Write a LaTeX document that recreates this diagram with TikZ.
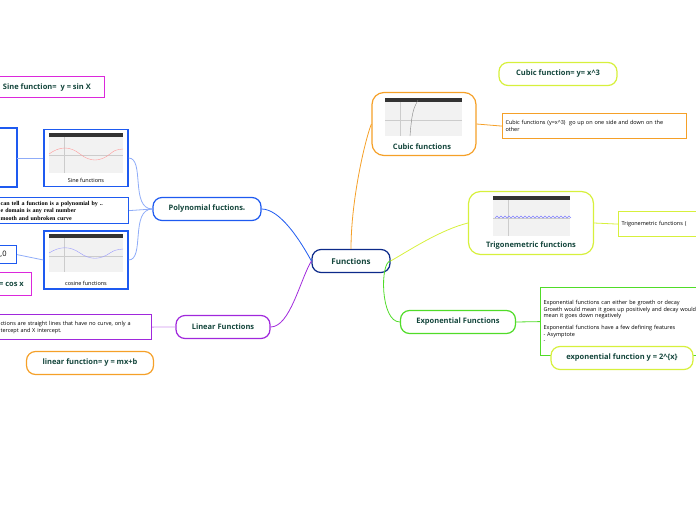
\documentclass[tikz,border=0pt]{standalone}
\usepackage{fontspec}
\setmainfont{Open Sans}
\newfontfamily\serifb{Liberation Serif}
\begin{document}
\begin{tikzpicture}[x=1pt,y=-1pt,
 pill/.style={draw,rounded corners=9pt,line width=1.2pt,fill=white,font=\bfseries\fontsize{7.5}{9}\selectfont},
 desc/.style={draw,line width=1.2pt,fill=white,font=\fontsize{5.5}{7}\selectfont,align=left,anchor=north west,inner sep=3pt},
 imgbox/.style={draw,line width=1.2pt,fill=white},
 conn/.style={line width=0.8pt}]
\useasboundingbox (0,0) rectangle (696,520);
\definecolor{dg}{RGB}{20,70,60}
\definecolor{cor}{RGB}{245,160,40}
\definecolor{cyl}{RGB}{215,240,60}
\definecolor{cgr}{RGB}{80,220,40}
\definecolor{cbl}{RGB}{30,90,240}
\definecolor{cpu}{RGB}{160,40,220}
\definecolor{cmg}{RGB}{220,40,220}
\tikzset{pill/.append style={text=dg}}
\newcommand\shot[4]{% x1 y1 x2 y2
 \fill[gray!10] (#1,#2) rectangle (#3,#4);
 \fill[black!80] (#1,#2) rectangle (#3,#2+4);
 \draw[gray!40,line width=0.3pt] (#1+15,#2+4) -- (#1+15,#4);
 \draw[gray!40,line width=0.3pt] (#1,#2+22) -- (#3,#2+22);}
% central
\node[pill,draw=dg!60!blue,minimum width=78pt,minimum height=23pt,font=\bfseries\fontsize{8}{9}\selectfont] (F) at (351,261) {Functions};
% cubic
\node[imgbox,draw=cor,rounded corners=12pt,minimum width=104pt,minimum height=63pt] (C) at (424,124) {};
\shot{385}{98}{462}{136}
\draw[gray,line width=0.4pt] (410,136) .. controls (412,110) and (414,108) .. (418,100);
\node[font=\bfseries\fontsize{7.5}{9}\selectfont,text=dg] at (422,147) {Cubic functions};
\node[pill,draw=cyl,minimum width=118pt,minimum height=23pt] (C1) at (558,74) {Cubic function= y= x\textasciicircum3};
\node[desc,draw=cor,text width=178pt,minimum height=25pt] (C2) at (502,113) {Cubic functions (y=x\textasciicircum3)\ \ go up on one side and down on the\\other};
% trig
\node[imgbox,draw=cyl,rounded corners=12pt,minimum width=125pt,minimum height=63pt] (T) at (531,223) {};
\shot{493}{196}{570}{236}
\draw[blue!50,line width=0.4pt] (495,218) \foreach \i in {0,...,18} {-- ++(2,-2) -- ++(2,2)};
\node[font=\bfseries\fontsize{7.5}{9}\selectfont,text=dg] at (531,246) {Trigonemetric functions};
\node[desc,draw=cyl,text width=84pt,minimum height=25pt] (T2) at (618,211) {Trigonemetric functions (};
% exp
\node[pill,draw=cgr,minimum width=115pt,minimum height=23pt] (E) at (458,322) {Exponential Functions};
\node[desc,draw=cgr,text width=164pt,minimum height=68pt,font=\fontsize{5.5}{6.6}\selectfont,anchor=north west] (E2) at (540,287) {Exponential functions can either be growth or decay\\Growth would mean it goes up positively and decay would\\mean it goes down negatively\\[5pt]Exponential functions have a few defining features\\- Asymptote\\-};
\node[pill,draw=cyl,minimum width=142pt,minimum height=23pt] (E3) at (622,358) {exponential function y = 2\textasciicircum\{x\}};
% polynomial
\node[pill,draw=cbl,minimum width=108pt,minimum height=23pt] (P) at (207,209) {Polynomial fuctions\textsubscript{\tiny\textbullet}};
\node[imgbox,draw=cbl,minimum width=84pt,minimum height=57pt] (S) at (86,158) {};
\shot{49}{133}{123}{173}
\draw[red!40,line width=0.4pt] (49,154) .. controls (60,146) and (70,146) .. (80,154) .. controls (90,162) and (100,162) .. (110,154) .. controls (115,150) .. (123,149);
\node[font=\fontsize{5.5}{7}\selectfont] at (86,180) {Sine functions};
\node[imgbox,draw=cbl,minimum width=84pt,minimum height=58pt] (Co) at (86,260) {};
\shot{49}{234}{123}{272}
\draw[blue!40,line width=0.4pt] (49,253) .. controls (60,246) and (70,246) .. (80,253) .. controls (90,260) and (100,260) .. (110,253) .. controls (115,250) .. (123,249);
\node[font=\fontsize{5.5}{7}\selectfont] at (86,283) {cosine functions};
\draw[imgbox,draw=cbl] (-5,128) rectangle (17,187);
\coordinate (L1) at (17,158);
\node[desc,draw=cbl,text width=125pt,minimum height=26pt,font=\serifb\bfseries\fontsize{6}{7.5}\selectfont,anchor=north west,inner sep=3pt] (PT) at (-3,197) {can tell a function is a polynomial by ..\\e domain is any real number\\mooth and unbroken curve};
\node[desc,draw=cbl,minimum width=30pt,minimum height=18pt,anchor=north east,font=\fontsize{7.5}{9}\selectfont,align=right] (Z) at (17,245) {0,0};
\node[desc,draw=cmg,minimum width=40pt,minimum height=23pt,anchor=north east,font=\bfseries\fontsize{7.5}{9}\selectfont,text=dg,align=right] (CX) at (32,272) {= cos x};
\node[desc,draw=cmg,minimum width=115pt,minimum height=21pt,anchor=north east,font=\bfseries\fontsize{7.5}{9}\selectfont,text=dg] (SX) at (105,76) {Sine function=\ \ y = sin X};
% linear
\node[pill,draw=cpu,minimum width=94pt,minimum height=23pt] (Li) at (223,327) {Linear Functions};
\node[desc,draw=cpu,text width=148pt,minimum height=25pt,anchor=north west] (Li2) at (-3,314) {ctions are straight lines that have no curve, only a\\tercept and X intercept.};
\node[pill,draw=cor,minimum width=127pt,minimum height=23pt] (Li3) at (90,363) {linear function= y = mx+b};
% connectors
\draw[conn,cor] (F.north) .. controls (351,200) and (365,140) .. (C.west);
\draw[conn,cor] (C.east) -- (C2.west);
\draw[conn,cyl] (F.east) .. controls (410,250) and (440,230) .. (T.west);
\draw[conn,cyl] (T.east) -- (T2.west);
\draw[conn,cgr] (F.east) .. controls (380,261) and (380,322) .. (E.west);
\draw[conn,cgr] (E.east) -- (E2.west);
\draw[conn,cbl] (F.west) .. controls (300,240) and (280,209) .. (P.east);
\draw[conn,cpu] (F.west) .. controls (300,280) and (290,327) .. (Li.east);
\draw[conn,cpu!50] (Li.west) -- (Li2.east);
\draw[conn,cbl!50] (P.west) .. controls (130,209) and (145,158) .. (S.east);
\draw[conn,cbl!50] (P.west) -- (PT.east);
\draw[conn,cbl!50] (P.west) .. controls (130,209) and (145,260) .. (Co.east);
\draw[conn,cbl!50] (S.west) -- (L1);
\draw[conn,cbl!50] (Co.west) -- (Z.east);
\end{tikzpicture}
\end{document}
